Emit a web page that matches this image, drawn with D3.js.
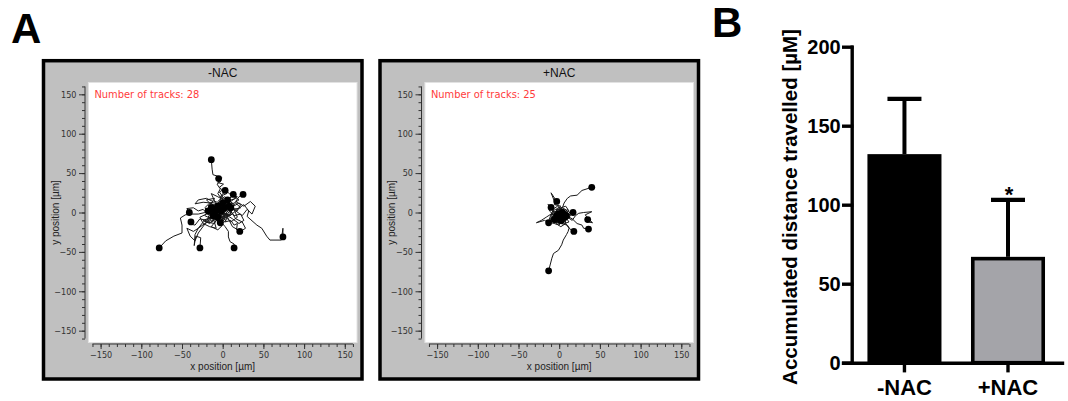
<!DOCTYPE html>
<html>
<head>
<meta charset="utf-8">
<script src="https://cdn.jsdelivr.net/npm/d3@7"></script>
<style>
  body { margin: 0; background: #fff; }
  svg { display: block; font-family: Arial, "Liberation Sans", sans-serif; }
  .small { font-family: "Liberation Sans Narrow", "Arial Narrow", "DejaVu Sans Condensed", Arial, sans-serif; }
</style>
</head>
<body>
<svg id="fig" width="1068" height="401"></svg>
<script>
// ---- data ----
var conditions = ["-NAC", "+NAC"];
var trackCounts = [28, 25];
var trackTicks = [-150, -100, -50, 0, 50, 100, 150];
var trackMinorTicks = [-160, -150, -140, -130, -120, -110, -100, -90, -80, -70, -60, -50, -40, -30, -20, -10,
  0, 10, 20, 30, 40, 50, 60, 70, 80, 90, 100, 110, 120, 130, 140, 150, 160];

// cell tracks, um, start at origin (-NAC)
var tracksMinus = [
  [[0,0],[-3,6],[-8,3],[-5,12],[-2,18],[-6,24],[-3,30],[-7,36],[-2,40],[-6,46],[-12,48],[-13,55],[-14,67]],
  [[0,0],[4,5],[-2,10],[3,15],[-3,20],[2,26],[-4,32],[1,36],[-6,38],[-1,44],[-5,43]],
  [[0,0],[6,3],[2,9],[8,12],[3,17],[-2,21],[5,24],[3,28]],
  [[0,0],[-4,4],[5,8],[10,4],[14,10],[8,15],[16,18],[13,23]],
  [[0,0],[8,-3],[12,4],[18,2],[22,10],[16,14],[20,20],[25,23]],
  [[0,0],[-6,-4],[-12,2],[-18,-3],[-24,4],[-30,2],[-36,6],[-44,5],[-41,0]],
  [[0,0],[-5,-6],[-14,-4],[-20,-10],[-28,-8],[-34,-16],[-42,-14],[-39,-12]],
  [[0,0],[4,-4],[-3,-7],[2,-11],[-6,-10],[-3,-13]],
  [[0,0],[6,-5],[3,-12],[10,-10],[14,-16],[18,-14],[17,-22],[21,-24]],
  [[0,0],[8,6],[18,4],[26,10],[32,2],[30,-5],[42,-16],[48,-20],[54,-30],[58,-35],[72,-35],[74,-20],[74,-31]],
  [[0,0],[-8,-2],[-15,5],[-22,0],[-30,-2],[-38,-2],[-46,-3],[-52,-7],[-50,-16],[-50,-26],[-60,-30],[-70,-36],[-78,-45]],
  [[0,0],[-6,-6],[-14,-10],[-22,-14],[-30,-20],[-34,-28],[-35,-42],[-33,-30],[-27,-32],[-28,-45]],
  [[0,0],[3,-8],[-2,-12],[3,-18],[7,-24],[7,-31],[9,-37],[14,-40],[14,-45]],
  [[0,0],[-8,5],[-3,12],[-14,10],[-20,16],[-10,18],[-16,8],[-6,2],[-12,-4],[-4,-8],[-10,2],[-2,6],[-8,14],[-16,12],[-22,6],[-18,2]],
  [[0,0],[7,6],[12,-2],[4,-6],[10,-12],[18,-6],[14,4],[22,6],[16,12],[6,2],[0,8],[-6,4],[2,-4],[8,4],[12,12],[8,8]],
  [[0,0],[-4,-6],[-12,-2],[-8,6],[-16,4],[-22,-4],[-14,-8],[-20,-12],[-10,-14],[-4,-2],[-12,4],[-18,-6],[-8,-8],[-2,4],[-6,-6]],
  [[0,0],[5,10],[-3,14],[2,20],[10,16],[6,8],[14,12],[20,16],[12,22],[4,12],[-4,8],[0,2],[8,10],[6,16]],
  [[0,0],[-6,4],[-14,12],[-24,13],[-34,11],[-30,16],[-20,18],[-12,14],[-18,8],[-8,10],[-14,2],[-4,-2],[-10,4]],
  [[0,0],[9,-4],[16,2],[24,-4],[30,4],[36,-2],[40,8],[34,14],[26,8],[20,12],[10,6]],
  [[0,0],[-3,8],[6,12],[2,4],[-6,-2],[4,-10],[-2,-16],[-10,-8],[-16,-14],[-24,-10],[-14,-6],[-6,0],[-12,8],[-4,12],[-8,4]],
  [[0,0],[3,-6],[-6,-4],[-10,6],[-2,10],[4,2],[-8,-10],[-14,-18],[-6,-22],[0,-16],[0,-8],[-8,-2],[2,4],[-4,8],[-10,0]],
  [[0,0],[12,-8],[20,-14],[26,-10],[22,-2],[14,-4],[8,4],[-2,6],[-8,12],[-4,4],[-12,-6],[-2,-10],[4,-2],[-2,2]],
  [[0,0],[-6,10],[-12,4],[-4,-2],[6,-2],[12,8],[4,14],[-6,20],[-14,24],[-8,10],[-16,6],[-10,-2],[-2,4],[-6,8]],
  [[0,0],[-14,-6],[-24,-12],[-30,-20],[-36,-24],[-44,-20],[-40,-30],[-34,-36],[-30,-26],[-20,-12],[-12,-4]],
  [[0,0],[6,-4],[2,6],[10,2],[16,-8],[24,-12],[28,-20],[22,-24],[12,-18],[6,-6],[-2,-4],[4,4],[-4,10],[2,6]],
  [[0,0],[-2,4],[-10,-4],[-4,-12],[4,-6],[10,-2],[6,6],[-2,2],[-8,8],[-16,0],[-8,-8],[-14,-12],[-4,-4],[-10,2]],
  [[0,0],[4,8],[10,14],[18,20],[8,24],[2,30],[-4,26],[0,20],[-6,14],[-2,8],[6,4],[-2,-2],[-8,4],[0,12]],
  [[0,0],[-8,-6],[-2,-2],[-12,6],[-20,-2],[-28,-6],[-24,-14],[-16,-18],[-8,-20],[-12,-6],[-4,-12],[2,-4],[-6,2],[-14,6]]
];

// cell tracks (+NAC)
var tracksPlus = [
  [[0,0],[4,6],[6,12],[10,18],[14,21],[22,22],[28,28],[40,32]],
  [[0,0],[-4,4],[2,8],[-6,10],[-5,12],[-10,25],[-3,14]],
  [[0,0],[-6,-4],[-12,2],[-8,8],[-14,10],[-10,6.5]],
  [[0,0],[6,-2],[10,4],[14,-2],[17,0]],
  [[0,0],[10,-6],[16,-10],[20,-4],[24,-1],[30,0],[40,1],[32,-3],[36,-8],[41,-13],[36,-12],[35,-9]],
  [[0,0],[-4,-6],[-10,-2],[-16,-6],[-22,-10],[-28,-13],[-18,-10],[-13,-13]],
  [[0,0],[6,-8],[2,-14],[10,-16],[14,-22],[18,-24]],
  [[0,0],[8,-4],[16,-8],[22,-14],[28,-16],[30,-20],[36,-21]],
  [[0,0],[4,-6],[8,-14],[12,-20],[11,-24],[9,-28],[5,-35],[3,-41],[-1,-48],[-7,-52],[-9,-58],[-13,-74]],
  [[0,0],[-4,3],[2,6],[-3,-2],[4,-5],[-2,-8],[5,-10],[1,-3],[-5,-6],[3,0],[-1,4],[6,-3]],
  [[0,0],[6,2],[3,-6],[-2,-4],[-6,-10],[0,-12],[3,-8],[-4,-2],[2,2],[-3,-7],[1,-4]],
  [[0,0],[-6,-2],[-8,4],[-2,8],[4,4],[8,-2],[2,-4],[-4,-8],[0,2],[6,4],[3,-2]],
  [[0,0],[3,-10],[-4,-12],[-8,-6],[-4,0],[2,2],[-1,-5],[5,-8],[-2,-10],[-6,-2],[0,-3]],
  [[0,0],[10,2],[8,-6],[12,-12],[6,-14],[2,-6],[6,-4],[0,-9],[8,-10],[4,0]],
  [[0,0],[-10,-6],[-6,-14],[0,-16],[4,-10],[-2,-6],[-8,-10],[-4,-2],[2,-8]],
  [[0,0],[2,6],[8,8],[12,2],[6,-2],[10,-8],[4,-6],[-2,-2],[4,2],[8,-4]],
  [[0,0],[-4,-4],[-12,-8],[-8,-14],[-2,-12],[-4,-6],[-9,-2],[-3,2],[-6,-9]],
  [[0,0],[4,4],[-2,4],[-6,-4],[0,-8],[6,-6],[3,-2],[-3,-12],[5,-14],[1,-6]],
  [[0,0],[-2,-6],[6,-8],[8,-14],[2,-18],[-4,-14],[0,-10],[-6,-6],[4,-4],[-1,-2]],
  [[0,0],[-8,2],[-10,-4],[-4,-8],[2,-12],[8,-10],[5,-6],[10,-2],[2,0],[-3,-4]],
  [[0,0],[5,-3],[9,3],[4,6],[-2,2],[-5,-4],[0,-4],[-7,-10],[-1,-14],[3,-6]],
  [[0,0],[-3,-3],[3,-2],[0,-9],[-7,-7],[-4,-2],[4,-6],[8,-12],[2,-10]],
  [[0,0],[7,-2],[10,-8],[14,-4],[10,0],[4,-2],[0,-6],[6,-10],[9,-4]],
  [[0,0],[-5,4],[-9,0],[-12,-8],[-6,-10],[-1,-6],[-7,-2],[-3,-12],[2,-10]],
  [[0,0],[2,-4],[-6,-6],[-2,-12],[6,-12],[2,-8],[-4,-2],[3,2],[7,-6]]
];

// accumulated distance, mean and SD
var barMeans = [132, 67];
var barErrors = [35, 36];
var barTicks = [0, 50, 100, 150, 200];

// ---- drawing ----
var svg = d3.select("#fig");

svg.append("text").attr("x", 11).attr("y", 43)
  .attr("font-size", 42).attr("font-weight", "bold").text("A");

function drawTrackPanel(i, tracks) {
  var ox = i * 336.5;
  var g = svg.append("g");
  var x = d3.scaleLinear().domain([-165, 165]).range([88.4 + ox, 357 + ox]);
  var y = d3.scaleLinear().domain([-165, 165]).range([342.5, 82.5]);

  g.append("rect")
    .attr("x", 43.5 + ox).attr("y", 60.7).attr("width", 318.5).attr("height", 318.3)
    .attr("fill", "#c0c0c0").attr("stroke", "#000").attr("stroke-width", 3.5);
  g.append("rect")
    .attr("x", x(-165)).attr("y", y(165))
    .attr("width", x(165) - x(-165)).attr("height", y(-165) - y(165))
    .attr("fill", "#fff").attr("stroke", "#e2e2e2");

  g.append("text").attr("x", x(0)).attr("y", 77).attr("text-anchor", "middle")
    .attr("font-size", 12).attr("fill", "#111").text(conditions[i]);
  g.append("text").attr("class", "small").attr("x", x(-165) + 6).attr("y", 98)
    .attr("font-size", 11).attr("fill", "#ff3b3b").text("Number of tracks: " + trackCounts[i]);

  // y axis
  var ya = g.append("g").attr("transform", "translate(" + (85 + ox) + ",0)");
  ya.call(d3.axisLeft(y).tickValues(trackMinorTicks).tickSize(3).tickFormat(""));
  ya.call(function (s) { s.select(".domain").remove(); });
  var yb = g.append("g").attr("transform", "translate(" + (85 + ox) + ",0)");
  yb.call(d3.axisLeft(y).tickValues(trackTicks).tickSize(6).tickPadding(2.5));
  yb.select(".domain").remove();
  g.append("line").attr("x1", 85 + ox).attr("x2", 85 + ox)
    .attr("y1", y(160)).attr("y2", y(-160)).attr("stroke", "#333");

  // x axis
  var xa = g.append("g").attr("transform", "translate(0,344)");
  xa.call(d3.axisBottom(x).tickValues(trackMinorTicks).tickSize(3).tickFormat(""));
  xa.select(".domain").remove();
  var xb = g.append("g").attr("transform", "translate(0,344)");
  xb.call(d3.axisBottom(x).tickValues(trackTicks).tickSize(5).tickPadding(3));
  xb.select(".domain").remove();
  g.append("line").attr("x1", x(-160)).attr("x2", x(160))
    .attr("y1", 344).attr("y2", 344).attr("stroke", "#333");

  g.selectAll(".tick line").attr("stroke", "#333");
  g.selectAll(".tick text").attr("class", "small").attr("font-size", 9)
    .attr("fill", "#333").attr("font-family", null);

  g.append("text").attr("x", x(0)).attr("y", 370).attr("text-anchor", "middle")
    .attr("font-size", 10).attr("fill", "#222").text("x position [µm]");
  g.append("text").attr("transform", "translate(" + (58.5 + ox) + "," + y(0) + ") rotate(-90)")
    .attr("text-anchor", "middle").attr("font-size", 10).attr("fill", "#222")
    .text("y position [µm]");

  // tracks
  var line = d3.line().x(function (d) { return x(d[0]); }).y(function (d) { return y(d[1]); });
  g.append("g").selectAll("path").data(tracks).join("path")
    .attr("d", line).attr("fill", "none").attr("stroke", "#1a1a1a").attr("stroke-width", 1);
  g.append("g").selectAll("circle").data(tracks).join("circle")
    .attr("cx", function (d) { return x(d[d.length - 1][0]); })
    .attr("cy", function (d) { return y(d[d.length - 1][1]); })
    .attr("r", 3.4).attr("fill", "#000");
}

drawTrackPanel(0, tracksMinus);
drawTrackPanel(1, tracksPlus);

// ---- panel B ----
svg.append("text").attr("x", 712).attr("y", 37)
  .attr("font-size", 42).attr("font-weight", "bold").text("B");

var bx = d3.scaleBand().domain(conditions).range([843, 1062])
  .paddingInner(0.285).paddingOuter(0.2).align(0.59);
var by = d3.scaleLinear().domain([0, 200]).range([362.7, 46.7]);
var bg = svg.append("g");

var yAx = bg.append("g").attr("transform", "translate(851.7,0)")
  .call(d3.axisLeft(by).tickValues(barTicks).tickSize(8).tickSizeOuter(0).tickPadding(3));
var xAx = bg.append("g").attr("transform", "translate(0,362.7)")
  .call(d3.axisBottom(bx).tickSize(8).tickSizeOuter(0).tickPadding(9));
bg.selectAll(".domain, .tick line").attr("stroke", "#000").attr("stroke-width", 3.4)
  .attr("stroke-linecap", "square");
yAx.selectAll("text").attr("font-size", 20).attr("font-weight", "bold").attr("fill", "#000")
  .attr("font-family", null);
xAx.selectAll("text").attr("font-size", 22).attr("font-weight", "bold").attr("fill", "#000")
  .attr("font-family", null);

var bars = bg.append("g").selectAll("g").data(conditions).join("g");
bars.append("line")
  .attr("x1", function (d) { return bx(d) + bx.bandwidth() / 2; })
  .attr("x2", function (d) { return bx(d) + bx.bandwidth() / 2; })
  .attr("y1", function (d, i) { return by(barMeans[i]); })
  .attr("y2", function (d, i) { return by(barMeans[i] + barErrors[i]); })
  .attr("stroke", "#000").attr("stroke-width", 4);
bars.append("line")
  .attr("x1", function (d) { return bx(d) + bx.bandwidth() / 2 - 17; })
  .attr("x2", function (d) { return bx(d) + bx.bandwidth() / 2 + 17; })
  .attr("y1", function (d, i) { return by(barMeans[i] + barErrors[i]); })
  .attr("y2", function (d, i) { return by(barMeans[i] + barErrors[i]); })
  .attr("stroke", "#000").attr("stroke-width", 4.2);
bars.append("rect")
  .attr("x", function (d) { return bx(d) + 1.8; })
  .attr("y", function (d, i) { return by(barMeans[i]) + 1.8; })
  .attr("width", bx.bandwidth() - 3.6)
  .attr("height", function (d, i) { return by(0) - by(barMeans[i]) - 1.8; })
  .attr("fill", function (d, i) { return i === 0 ? "#000" : "#a4a4a9"; })
  .attr("stroke", "#000").attr("stroke-width", 3.6);

bg.append("text")
  .attr("x", bx("+NAC") + bx.bandwidth() / 2 + 1)
  .attr("y", by(barMeans[1] + barErrors[1]) + 2)
  .attr("text-anchor", "middle").attr("font-size", 22).attr("font-weight", "bold")
  .text("*");

bg.append("text").attr("transform", "translate(797,207) rotate(-90)")
  .attr("text-anchor", "middle").attr("font-size", 20.5).attr("font-weight", "bold")
  .text("Accumulated distance travelled [µM]");
</script>
</body>
</html>
